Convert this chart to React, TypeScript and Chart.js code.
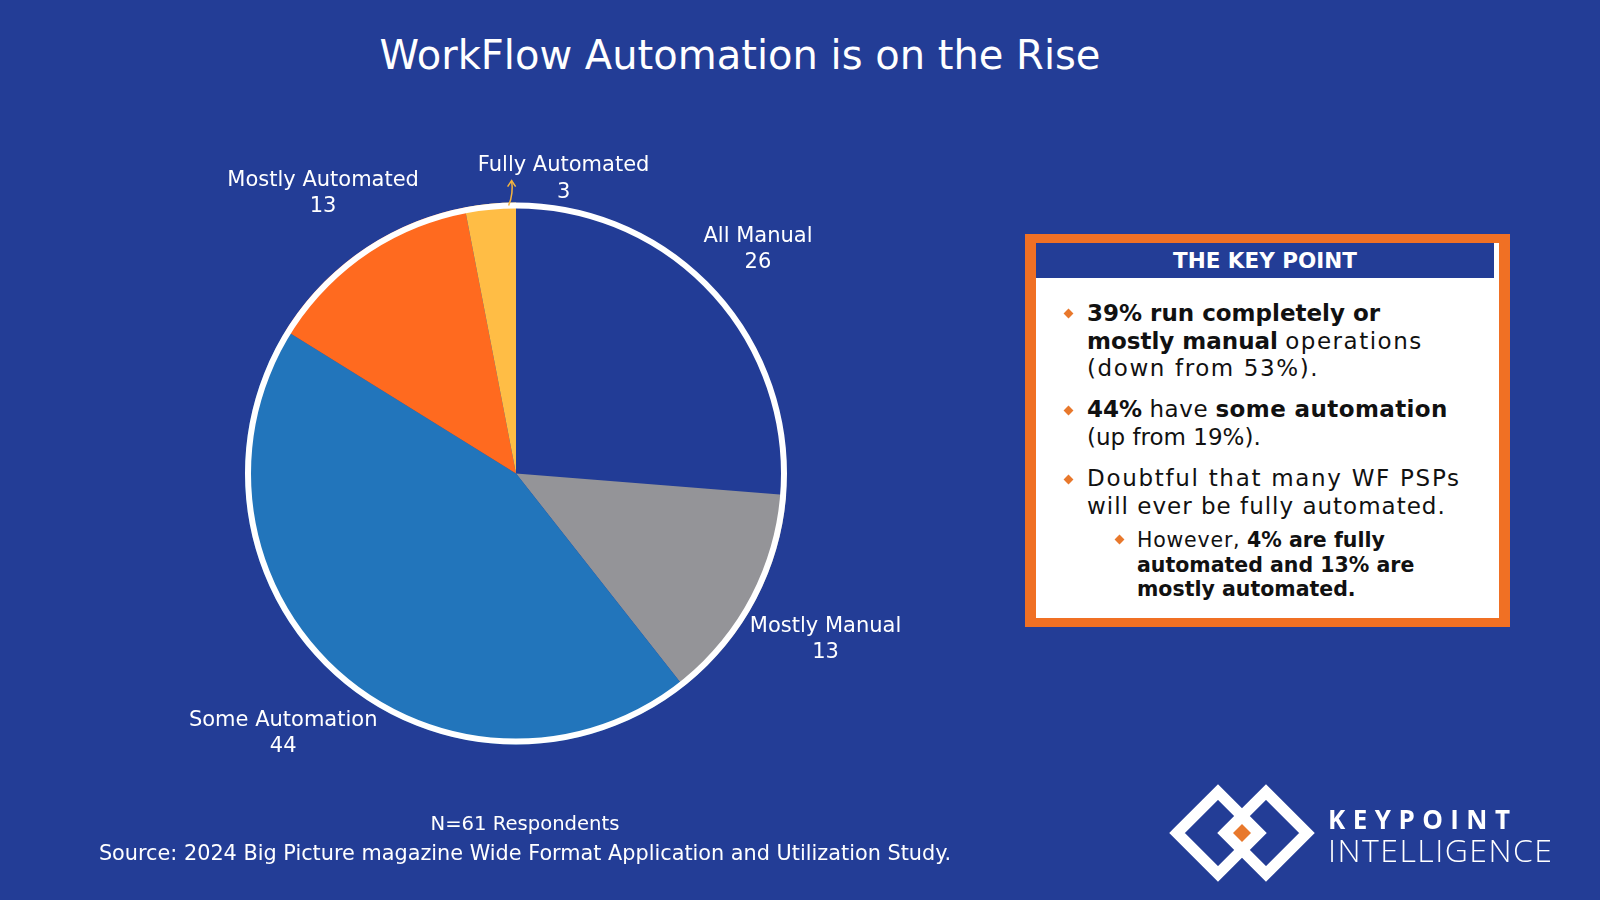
import React, { useEffect, useRef } from "react";
import { Chart, registerables } from "chart.js";

Chart.register(...registerables);

const categories = ["All Manual", "Mostly Manual", "Some Automation", "Mostly Automated", "Fully Automated"];
const values = [26, 13, 44, 13, 3];
const sliceColors = ["#223C96", "#949498", "#2275BB", "#FF6A1F", "#FFBD45"];

const BG = "#233D96";
const ORANGE = "#F07024";
const FONT = "'DejaVu Sans', 'Open Sans', sans-serif";
const LOGO_FONT = "'Open Sans', 'DejaVu Sans', sans-serif";

function placeLabel(cx: number, cy: number, R: number, ang: number, w: number, h: number, gap: number) {
  const c = Math.cos(ang);
  const s = Math.sin(ang);
  const nearest = (d: number) => {
    const px = c * d;
    const py = s * d;
    const nx = Math.max(px - w / 2, Math.min(0, px + w / 2));
    const ny = Math.max(py - h / 2, Math.min(0, py + h / 2));
    return Math.hypot(nx, ny);
  };
  let lo = 0;
  let hi = R + w + h + gap;
  for (let k = 0; k < 40; k++) {
    const m = (lo + hi) / 2;
    if (nearest(m) < R + gap) lo = m;
    else hi = m;
  }
  return { x: cx + c * hi, y: cy + s * hi };
}

const piePlugin = {
  id: "pieDecor",
  afterDatasetsDraw(chart: any) {
    const ctx: CanvasRenderingContext2D = chart.ctx;
    const meta = chart.getDatasetMeta(0);
    const first = meta.data[0] as any;
    const cx = first.x;
    const cy = first.y;
    const R = first.outerRadius;
    ctx.save();
    // white outer ring
    ctx.beginPath();
    ctx.arc(cx, cy, R - 3, 0, Math.PI * 2);
    ctx.lineWidth = 6;
    ctx.strokeStyle = "#FFFFFF";
    ctx.stroke();

    ctx.fillStyle = "#FFFFFF";
    ctx.font = `21px ${FONT}`;
    ctx.textAlign = "center";
    ctx.textBaseline = "middle";
    const total = values.reduce((a, b) => a + b, 0);
    const n = meta.data.length;
    meta.data.forEach((arc: any, i: number) => {
      const mid = (arc.startAngle + arc.endAngle) / 2;
      const name = categories[i];
      const val = String(values[i]);
      if (i === n - 1 && values[i] / total < 0.05) {
        // callout with small arrow
        const a = mid + 0.75 * (arc.endAngle - mid);
        const bx = cx + Math.cos(a) * (R - 3);
        const by = cy + Math.sin(a) * (R - 3);
        const tx = bx + 2;
        const ty = by - 25;
        ctx.strokeStyle = "#F5B53F";
        ctx.lineWidth = 1.5;
        ctx.beginPath();
        ctx.moveTo(bx - 1, by);
        ctx.quadraticCurveTo(bx + 4, by - 12, tx, ty);
        ctx.stroke();
        ctx.beginPath();
        ctx.moveTo(tx - 4, ty + 6);
        ctx.lineTo(tx, ty);
        ctx.lineTo(tx + 4, ty + 6);
        ctx.stroke();
        ctx.fillStyle = "#FFFFFF";
        ctx.fillText(name, bx + 54, by - 40);
        ctx.fillText(val, bx + 54, by - 13);
        return;
      }
      const w = Math.max(ctx.measureText(name).width, ctx.measureText(val).width);
      const p = placeLabel(cx, cy, R, mid, w, 50, 2);
      ctx.fillText(name, p.x, p.y - 13);
      ctx.fillText(val, p.x, p.y + 13);
    });
    ctx.restore();
  },
};

function PieChart() {
  const ref = useRef<HTMLCanvasElement | null>(null);
  useEffect(() => {
    if (!ref.current) return;
    const chart = new Chart(ref.current, {
      type: "pie",
      data: {
        labels: categories,
        datasets: [
          {
            data: values,
            backgroundColor: sliceColors,
            borderWidth: 0,
          },
        ],
      },
      options: {
        animation: false,
        responsive: false,
        devicePixelRatio: 1,
        events: [],
        layout: { padding: { left: 245, right: 813, top: 202, bottom: 155 } },
        plugins: {
          legend: { display: false },
          tooltip: { enabled: false },
          title: { display: false },
        },
      } as any,
      plugins: [piePlugin],
    });
    return () => chart.destroy();
  }, []);
  return (
    <canvas
      ref={ref}
      width={1600}
      height={900}
      style={{ position: "absolute", left: 0, top: 0, width: 1600, height: 900 }}
    />
  );
}

function Diamond({ x, y }: { x: number; y: number }) {
  return (
    <div
      style={{
        position: "absolute",
        left: x - 3.5,
        top: y - 3.5,
        width: 7,
        height: 7,
        background: "#E8782C",
        transform: "rotate(45deg)",
      }}
    />
  );
}

function KeyPoint() {
  const txt: React.CSSProperties = {
    position: "absolute",
    fontFamily: FONT,
    color: "#111111",
    whiteSpace: "nowrap",
  };
  const main: React.CSSProperties = { ...txt, left: 1087, fontSize: 23, lineHeight: "27.5px" };
  const sub: React.CSSProperties = { ...txt, left: 1137, fontSize: 20.5, lineHeight: "24.5px" };
  const wide = (ls: number): React.CSSProperties => ({ letterSpacing: `${ls}px` });
  return (
    <>
      <div
        style={{
          position: "absolute",
          left: 1025,
          top: 234,
          width: 485,
          height: 393,
          boxSizing: "border-box",
          borderStyle: "solid",
          borderColor: ORANGE,
          borderWidth: "9px 11px 9px 11px",
          background: "#FFFFFF",
        }}
      />
      <div
        style={{
          position: "absolute",
          left: 1036,
          top: 243,
          width: 458,
          height: 35,
          background: BG,
          color: "#FFFFFF",
          fontFamily: FONT,
          fontWeight: 700,
          fontSize: 21.5,
          lineHeight: "35px",
          textAlign: "center",
        }}
      >
        THE KEY POINT
      </div>
      <Diamond x={1068} y={313} />
      <div style={{ ...main, top: 300 }}>
        <b>39% run completely or</b>
        <br />
        <b>mostly manual</b> <span style={wide(1.5)}>operations</span>
        <br />
        <span style={wide(1.6)}>(down from 53%).</span>
      </div>
      <Diamond x={1068} y={410} />
      <div style={{ ...main, top: 396 }}>
        <b>44%</b> <span style={wide(0.6)}>have</span> <b style={wide(0.4)}>some automation</b>
        <br />
        (up from 19%).
      </div>
      <Diamond x={1068} y={479} />
      <div style={{ ...main, top: 465 }}>
        <span style={wide(1.7)}>Doubtful that many WF PSPs</span>
        <br />
        <span style={wide(1.0)}>will ever be fully automated.</span>
      </div>
      <Diamond x={1119} y={539} />
      <div style={{ ...sub, top: 528 }}>
        <span style={wide(0.8)}>However,</span> <b>4% are fully</b>
        <br />
        <b>automated and 13% are</b>
        <br />
        <b>mostly automated.</b>
      </div>
    </>
  );
}

function Logo() {
  const d = (cx: number, cy: number, h: number) =>
    `M ${cx - h} ${cy} L ${cx} ${cy - h} L ${cx + h} ${cy} L ${cx} ${cy + h} Z`;
  return (
    <svg
      width={1600}
      height={900}
      style={{ position: "absolute", left: 0, top: 0, pointerEvents: "none" }}
    >
      <path d={d(1218, 833, 41)} fill="none" stroke="#FFFFFF" strokeWidth={11} />
      <path d={d(1266, 833, 41)} fill="none" stroke="#FFFFFF" strokeWidth={11} />
      <path d={d(1242, 833, 20)} fill="#FFFFFF" />
      <path d={d(1242, 833, 9)} fill="#E8782C" />
      <text
        x={1328}
        y={829}
        fill="#FFFFFF"
        fontFamily={LOGO_FONT}
        fontWeight={700}
        fontSize={26}
        textLength={182}
        lengthAdjust="spacing"
      >
        KEYPOINT
      </text>
      <text
        x={1328}
        y={862}
        fill="#FFFFFF"
        fontFamily={LOGO_FONT}
        fontWeight={300}
        fontSize={32}
        textLength={224}
        lengthAdjust="spacing"
      >
        INTELLIGENCE
      </text>
    </svg>
  );
}

export default function App() {
  return (
    <div
      style={{
        position: "fixed",
        left: 0,
        top: 0,
        width: 1600,
        height: 900,
        background: BG,
        overflow: "hidden",
      }}
    >
      <div
        style={{
          position: "absolute",
          left: 0,
          width: 1480,
          top: 29,
          textAlign: "center",
          color: "#FFFFFF",
          fontFamily: FONT,
          fontSize: 40,
          lineHeight: "52px",
        }}
      >
        WorkFlow Automation is on the Rise
      </div>
      <PieChart />
      <div
        style={{
          position: "absolute",
          left: 25,
          width: 1000,
          top: 809,
          textAlign: "center",
          color: "#FFFFFF",
          fontFamily: FONT,
          lineHeight: "29px",
        }}
      >
        <span style={{ fontSize: 19.6 }}>N=61 Respondents</span>
        <br />
        <span style={{ fontSize: 20.8 }}>
          Source: 2024 Big Picture magazine Wide Format Application and Utilization Study.
        </span>
      </div>
      <KeyPoint />
      <Logo />
    </div>
  );
}
